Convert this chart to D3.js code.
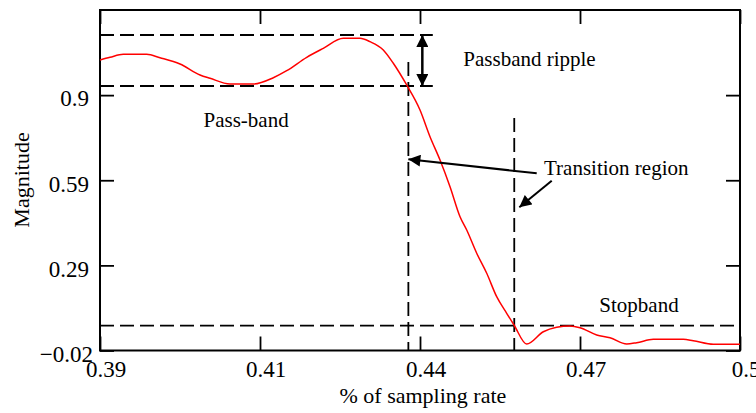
<!DOCTYPE html>
<html><head><meta charset="utf-8">
<script src="https://cdn.jsdelivr.net/npm/d3@7"></script>
<style>
body{margin:0;background:#fff}
svg{display:block}
text{font-family:"Liberation Serif","Times New Roman",serif;fill:#000}
</style>
</head><body><svg id="chart" width="756" height="413"></svg>
<script>
// ---- data ----
const freq = [0.39, 0.39172, 0.394, 0.39803, 0.40031, 0.40375, 0.40719, 0.40891, 0.41234, 0.41635,
  0.41979, 0.42209, 0.42553, 0.42838, 0.43182, 0.43469, 0.43641, 0.43869, 0.44041, 0.44271,
  0.445, 0.44672, 0.44844, 0.45016, 0.45188, 0.45303, 0.45475, 0.45647, 0.45818, 0.4599,
  0.46116, 0.46334, 0.4662, 0.46849, 0.47078, 0.4725, 0.47537, 0.47766, 0.48053, 0.48225,
  0.4851, 0.49026, 0.49196, 0.49541, 0.5];
const magnitude = [1.0266, 1.0363, 1.0471, 1.0471, 1.0348, 1.0121, 0.9725, 0.9606, 0.9401, 0.9401,
  0.9628, 0.988, 1.0363, 1.0687, 1.1047, 1.1047, 1.0925, 1.0626, 1.0147, 0.9365,
  0.8464, 0.7502, 0.6663, 0.5701, 0.462, 0.4141, 0.3302, 0.2581, 0.1738, 0.114,
  0.0719, 0.0034, 0.0477, 0.0636, 0.0683, 0.0621, 0.0358, 0.0261, 0.0034, 0.0081,
  0.0203, 0.0203, 0.0153, 0.0023, 0.0023];
const xTickValues = [0.39, 0.4175, 0.445, 0.4725, 0.5];
const xTickLabels = ["0.39", "0.41", "0.44", "0.47", "0.5"];
const yTickValues = [-0.02, 0.28667, 0.59333, 0.9];
const yTickLabels = ["\u22120.02", "0.29", "0.59", "0.9"];
const rippleLevels = [1.1166, 0.9329];
const rippleEnd = 0.4472;
const stopbandLevel = 0.0693;
const transitionEdges = [0.443, 0.4612];
const transitionTops = [1.0193, 0.8176];
const rippleArrowX = 0.4454;
const noteTexts = ["Passband ripple", "Pass-band", "Transition region", "Stopband"];
const noteFreq = [0.45244, 0.40779, 0.46631, 0.47582];
const noteMag = [1.00494, 0.78626, 0.61226, 0.1187];

// ---- layout ----
const mLeft = 100, mRight = 740, mTop = 10, mBottom = 350.5;
const svg = d3.select("#chart");
const x = d3.scaleLinear().domain([0.39, 0.5]).range([mLeft, mRight]);
const y = d3.scaleLinear().domain([-0.02, 1.20667]).range([mBottom, mTop]);

const defs = svg.append("defs");
defs.append("marker").attr("id", "head").attr("viewBox", "0 0 10 10")
  .attr("refX", 10).attr("refY", 5).attr("markerUnits", "userSpaceOnUse")
  .attr("markerWidth", 13).attr("markerHeight", 12).attr("orient", "auto-start-reverse")
  .append("path").attr("d", "M0,0L10,5L0,10z").attr("fill", "#000");

function styleAxis(g) {
  g.select(".domain").remove();
  g.selectAll(".tick line").attr("stroke", "#000").attr("stroke-width", 1.8);
}
svg.append("g").attr("transform", `translate(0,${mBottom})`)
  .call(d3.axisBottom(x).tickValues(xTickValues).tickFormat((d, i) => xTickLabels[i])
    .tickSizeInner(-14).tickSizeOuter(0))
  .call(styleAxis)
  .call(g => g.selectAll("text").attr("dy", null).attr("y", 26.5).attr("x", 5.5)
    .style("font-size", "23px").style("font-family", "Liberation Serif").attr("fill", "#000"));
svg.append("g").attr("transform", `translate(0,${mTop})`)
  .call(d3.axisTop(x).tickValues(xTickValues).tickFormat("").tickSizeInner(-14).tickSizeOuter(0))
  .call(styleAxis);
svg.append("g").attr("transform", `translate(${mLeft},0)`)
  .call(d3.axisLeft(y).tickValues(yTickValues).tickFormat((d, i) => yTickLabels[i])
    .tickSizeInner(-14).tickSizeOuter(0))
  .call(styleAxis)
  .call(g => g.selectAll("text").attr("dy", null).attr("y", 10.8)
    .attr("x", (d, i) => i === 0 ? -7 : -11)
    .style("font-size", "23px").style("font-family", "Liberation Serif").attr("fill", "#000"));
svg.append("g").attr("transform", `translate(${mRight},0)`)
  .call(d3.axisRight(y).tickValues(yTickValues).tickFormat("").tickSizeInner(-14).tickSizeOuter(0))
  .call(styleAxis);

svg.append("rect").attr("x", mLeft).attr("y", mTop).attr("width", mRight - mLeft).attr("height", mBottom - mTop)
  .attr("fill", "none").attr("stroke", "#000").attr("stroke-width", 2);

const dashed = svg.append("g").attr("stroke", "#000").attr("stroke-width", 1.8)
  .attr("stroke-dasharray", "14,6").attr("fill", "none");
rippleLevels.forEach(v => dashed.append("line")
  .attr("x1", x(0.39)).attr("x2", x(rippleEnd)).attr("y1", y(v)).attr("y2", y(v)));
dashed.append("line").attr("x1", x(0.39)).attr("x2", x(0.5))
  .attr("y1", y(stopbandLevel)).attr("y2", y(stopbandLevel));
transitionEdges.forEach((v, i) => dashed.append("line")
  .attr("x1", x(v)).attr("x2", x(v)).attr("y1", y(transitionTops[i])).attr("y2", y(-0.02)));

const pts = freq.map((f, i) => [f, magnitude[i]]);
svg.append("path").datum(pts)
  .attr("d", d3.line().x(d => x(d[0])).y(d => y(d[1])).curve(d3.curveMonotoneX))
  .attr("fill", "none").attr("stroke", "#ff0000").attr("stroke-width", 1.5);

svg.append("line").attr("x1", x(rippleArrowX)).attr("x2", x(rippleArrowX))
  .attr("y1", y(rippleLevels[0])).attr("y2", y(rippleLevels[1]))
  .attr("stroke", "#000").attr("stroke-width", 2.5)
  .attr("marker-start", "url(#head)").attr("marker-end", "url(#head)");

const arrows = [
  [[0.46506, 0.6184], [0.443, 0.6688]],
  [[0.46764, 0.5917], [0.46207, 0.4959]]
];
arrows.forEach(a => svg.append("line")
  .attr("x1", x(a[0][0])).attr("y1", y(a[0][1])).attr("x2", x(a[1][0])).attr("y2", y(a[1][1]))
  .attr("stroke", "#000").attr("stroke-width", 2).attr("marker-end", "url(#head)"));

svg.append("g").selectAll("text").data(noteTexts).join("text")
  .attr("x", (d, i) => x(noteFreq[i])).attr("y", (d, i) => y(noteMag[i])).text(d => d)
  .style("font-size", "21px");

svg.append("text").attr("x", x(0.4455)).attr("y", 403).attr("text-anchor", "middle")
  .style("font-size", "22px").text("% of sampling rate");
svg.append("text").attr("transform", "translate(29,180) rotate(-90)").attr("text-anchor", "middle")
  .style("font-size", "22px").text("Magnitude");
</script></body></html>
